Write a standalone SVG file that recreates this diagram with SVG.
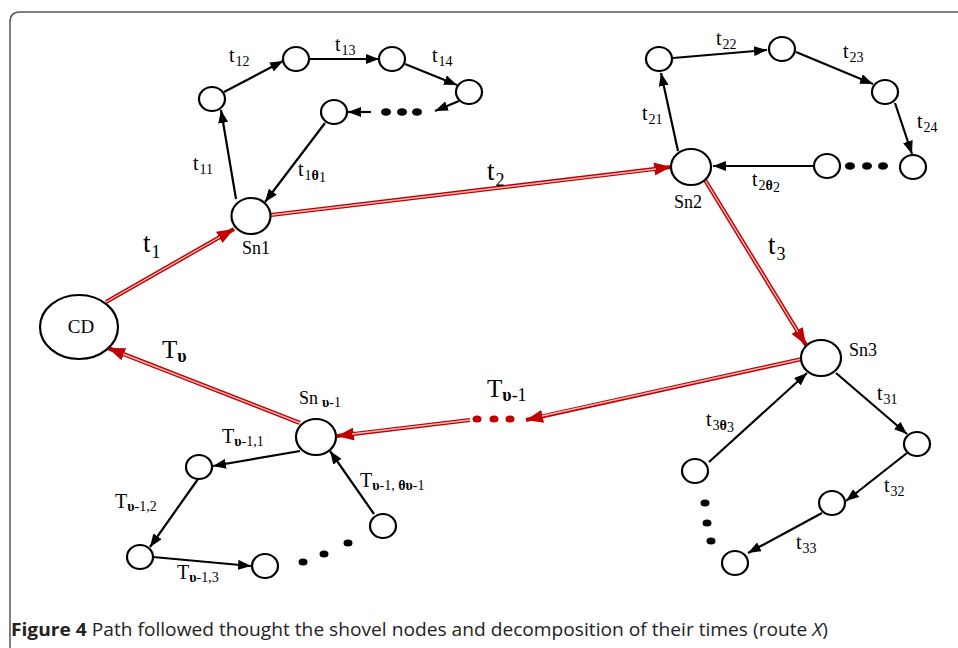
<svg xmlns="http://www.w3.org/2000/svg" width="958" height="648" viewBox="0 0 958 648">
<style>
.n{fill:#fff;stroke:#000;stroke-width:2.2}
.e{fill:none;stroke:#000;stroke-width:2.2}
.ro{fill:none;stroke:#c00000;stroke-width:4.2}
.ri{fill:none;stroke:#f6b8b8;stroke-width:1.4}
.d{fill:#000}
.rd{fill:#c00000}
text{font-family:"Liberation Serif","Times New Roman",serif;fill:#000}
.l{font-size:20px}
.s{font-size:14px}
.b{font-weight:bold}
.big{font-size:27px}
.bigT{font-size:25px}
.bs{font-size:18px}
.nm{font-size:18px}
.cap{font-family:"Open Sans","Noto Sans",sans-serif;font-size:18px;fill:#222}
</style>
<defs>
<marker id="ah" markerUnits="userSpaceOnUse" markerWidth="13" markerHeight="10" refX="13" refY="5" orient="auto"><path d="M0,0 L13,5 L0,10 z" fill="#000"/></marker>
<marker id="rh" markerUnits="userSpaceOnUse" markerWidth="17" markerHeight="13" refX="17" refY="6.5" orient="auto"><path d="M0,0 L17,6.5 L0,13 z" fill="#c00000"/></marker>
</defs>
<rect width="958" height="648" fill="#fff"/>
<path d="M10,660 L10,22 Q10,12 20,12 L970,12" fill="none" stroke="#555" stroke-width="1.5"/>

<g id="connectors">
  <path class="ro" d="M106,302 L234,229" marker-end="url(#rh)"/>
  <path class="ri" d="M106,302 L220,237"/>
  <path class="ro" d="M271,215 L671,167" marker-end="url(#rh)"/>
  <path class="ri" d="M271,215 L656,169"/>
  <path class="ro" d="M705,180 L806,345" marker-end="url(#rh)"/>
  <path class="ri" d="M705,180 L798,332"/>
  <path class="ro" d="M802,359 L526,420" marker-end="url(#rh)"/>
  <path class="ri" d="M802,359 L542,416"/>
  <path class="ro" d="M470,420 L337,436" marker-end="url(#rh)"/>
  <path class="ri" d="M470,420 L352,434"/>
  <path class="ro" d="M300,423 L108,348" marker-end="url(#rh)"/>
  <path class="ri" d="M300,423 L123,354"/>
  <path class="e" d="M236,199 L221,110" marker-end="url(#ah)"/>
  <path class="e" d="M224,92 L283,61" marker-end="url(#ah)"/>
  <path class="e" d="M309,59 L379,59" marker-end="url(#ah)"/>
  <path class="e" d="M405,64 L457,85" marker-end="url(#ah)"/>
  <path class="e" d="M459,101 L435,111" marker-end="url(#ah)"/>
  <path class="e" d="M371,112 L348,112" marker-end="url(#ah)"/>
  <path class="e" d="M325,123 L265,202" marker-end="url(#ah)"/>
  <path class="e" d="M678,151 L661,73" marker-end="url(#ah)"/>
  <path class="e" d="M673,58 L767,50" marker-end="url(#ah)"/>
  <path class="e" d="M796,52 L873,84" marker-end="url(#ah)"/>
  <path class="e" d="M895,103 L912,154" marker-end="url(#ah)"/>
  <path class="e" d="M813,166 L713,166" marker-end="url(#ah)"/>
  <path class="e" d="M836,373 L907,434" marker-end="url(#ah)"/>
  <path class="e" d="M907,453 L846,501" marker-end="url(#ah)"/>
  <path class="e" d="M822,513 L748,553" marker-end="url(#ah)"/>
  <path class="e" d="M709,462 L807,373" marker-end="url(#ah)"/>
  <path class="e" d="M300,451 L213,466" marker-end="url(#ah)"/>
  <path class="e" d="M198,479 L150,547" marker-end="url(#ah)"/>
  <path class="e" d="M153,557 L251,566" marker-end="url(#ah)"/>
  <path class="e" d="M374,514 L330,451" marker-end="url(#ah)"/>
</g>

<g id="dots">
  <ellipse class="d" cx="386" cy="112" rx="5" ry="3.8"/>
  <ellipse class="d" cx="402" cy="112" rx="5" ry="3.8"/>
  <ellipse class="d" cx="417" cy="112" rx="5" ry="3.8"/>
  <ellipse class="d" cx="850" cy="166" rx="5" ry="3.8"/>
  <ellipse class="d" cx="867" cy="166" rx="5" ry="3.8"/>
  <ellipse class="d" cx="883" cy="166" rx="5" ry="3.8"/>
  <ellipse class="d" cx="705" cy="503" rx="4.5" ry="3.5"/>
  <ellipse class="d" cx="707" cy="523" rx="4.5" ry="3.5"/>
  <ellipse class="d" cx="711" cy="541" rx="4.5" ry="3.5"/>
  <ellipse class="d" cx="303" cy="562" rx="4.5" ry="3.5"/>
  <ellipse class="d" cx="324" cy="554" rx="4.5" ry="3.5"/>
  <ellipse class="d" cx="348" cy="543" rx="4.5" ry="3.5"/>
  <ellipse class="rd" cx="477" cy="419" rx="4.5" ry="3.5"/>
  <ellipse class="rd" cx="494" cy="419" rx="4.5" ry="3.5"/>
  <ellipse class="rd" cx="510" cy="419" rx="4.5" ry="3.5"/>
</g>

<g id="CD"><ellipse class="n" cx="79" cy="327" rx="39" ry="32"/><text x="81" y="333" text-anchor="middle" font-size="19">CD</text></g>
<g id="Sn1"><ellipse class="n" cx="251" cy="216" rx="19.5" ry="18"/><text class="nm" x="256" y="254" text-anchor="middle">Sn1</text></g>
<g id="Sn2"><ellipse class="n" cx="691" cy="167" rx="20" ry="18"/><text class="nm" x="688" y="208" text-anchor="middle">Sn2</text></g>
<g id="Sn3"><ellipse class="n" cx="821" cy="358" rx="20" ry="18"/><text class="nm" x="863" y="356" text-anchor="middle">Sn3</text></g>
<g id="Snv"><ellipse class="n" cx="316" cy="437" rx="20" ry="18"/><text class="nm" x="299" y="404">Sn<tspan class="s b" dx="4" dy="3">υ</tspan><tspan class="s">-1</tspan></text></g>

<g id="n11"><ellipse class="n" cx="212" cy="99" rx="13" ry="12"/></g>
<g id="n12"><ellipse class="n" cx="296" cy="59" rx="13" ry="12"/></g>
<g id="n13"><ellipse class="n" cx="392" cy="59" rx="13" ry="12"/></g>
<g id="n14"><ellipse class="n" cx="469" cy="92" rx="13" ry="12"/></g>
<g id="n1t"><ellipse class="n" cx="334" cy="112" rx="13" ry="12"/></g>
<g id="n21"><ellipse class="n" cx="659" cy="59" rx="13" ry="12"/></g>
<g id="n22"><ellipse class="n" cx="782" cy="49" rx="13" ry="12"/></g>
<g id="n23"><ellipse class="n" cx="885" cy="92" rx="13" ry="12"/></g>
<g id="n24"><ellipse class="n" cx="913" cy="167" rx="13" ry="12"/></g>
<g id="n2t"><ellipse class="n" cx="827" cy="166" rx="13" ry="12"/></g>
<g id="n31"><ellipse class="n" cx="917" cy="444" rx="13" ry="12"/></g>
<g id="n32"><ellipse class="n" cx="832" cy="503" rx="13" ry="12"/></g>
<g id="n33"><ellipse class="n" cx="735" cy="563" rx="13" ry="12"/></g>
<g id="n3t"><ellipse class="n" cx="695" cy="471" rx="13" ry="12"/></g>
<g id="nv1"><ellipse class="n" cx="199" cy="467" rx="13" ry="12"/></g>
<g id="nv2"><ellipse class="n" cx="140" cy="557" rx="13" ry="12"/></g>
<g id="nv3"><ellipse class="n" cx="265" cy="566" rx="13" ry="12"/></g>
<g id="nvt"><ellipse class="n" cx="383" cy="526" rx="13" ry="12"/></g>

<g id="labels">
  <text class="big" x="143" y="252">t<tspan class="bs" dx="1" dy="6">1</tspan></text>
  <text class="big" x="487" y="180">t<tspan class="bs" dx="1" dy="6">2</tspan></text>
  <text class="big" x="768" y="254">t<tspan class="bs" dx="1" dy="6">3</tspan></text>
  <text class="bigT" x="487" y="397">T<tspan class="nm b" dy="4">υ</tspan><tspan class="nm">-1</tspan></text>
  <text class="bigT" x="162" y="358">T<tspan class="nm b" dy="4">υ</tspan></text>

  <text class="l" x="193" y="170">t<tspan class="s" dx="1" dy="4">11</tspan></text>
  <text class="l" x="229" y="62">t<tspan class="s" dx="1" dy="4">12</tspan></text>
  <text class="l" x="335" y="51">t<tspan class="s" dx="1" dy="4">13</tspan></text>
  <text class="l" x="432" y="62">t<tspan class="s" dx="1" dy="4">14</tspan></text>
  <text class="l" x="298" y="176">t<tspan class="s" dx="1" dy="4">1</tspan><tspan class="s b">θ</tspan><tspan class="s" dy="2">1</tspan></text>

  <text class="l" x="642" y="120">t<tspan class="s" dx="1" dy="4">21</tspan></text>
  <text class="l" x="716" y="45">t<tspan class="s" dx="1" dy="4">22</tspan></text>
  <text class="l" x="843" y="58">t<tspan class="s" dx="1" dy="4">23</tspan></text>
  <text class="l" x="917" y="128">t<tspan class="s" dx="1" dy="4">24</tspan></text>
  <text class="l" x="752" y="186">t<tspan class="s" dx="1" dy="4">2</tspan><tspan class="s b">θ</tspan><tspan class="s" dy="2">2</tspan></text>

  <text class="l" x="877" y="400">t<tspan class="s" dx="1" dy="4">31</tspan></text>
  <text class="l" x="884" y="492">t<tspan class="s" dx="1" dy="4">32</tspan></text>
  <text class="l" x="796" y="549">t<tspan class="s" dx="1" dy="4">33</tspan></text>
  <text class="l" x="706" y="426">t<tspan class="s" dx="1" dy="4">3</tspan><tspan class="s b">θ</tspan><tspan class="s" dy="2">3</tspan></text>

  <text class="l" x="222" y="443">T<tspan class="s b" dy="3">υ</tspan><tspan class="s">-1,1</tspan></text>
  <text class="l" x="115" y="508">T<tspan class="s b" dy="3">υ</tspan><tspan class="s">-1,2</tspan></text>
  <text class="l" x="177" y="579">T<tspan class="s b" dy="3">υ</tspan><tspan class="s">-1,3</tspan></text>
  <text class="l" x="360" y="487">T<tspan class="s b" dy="3">υ</tspan><tspan class="s">-1, </tspan><tspan class="s b">θυ</tspan><tspan class="s">-1</tspan></text>
</g>

<text class="cap" x="11" y="636" textLength="817" lengthAdjust="spacingAndGlyphs"><tspan font-weight="bold">Figure 4</tspan>  Path followed thought the shovel nodes and decomposition of their times (route <tspan font-style="italic">X</tspan>)</text>
</svg>
